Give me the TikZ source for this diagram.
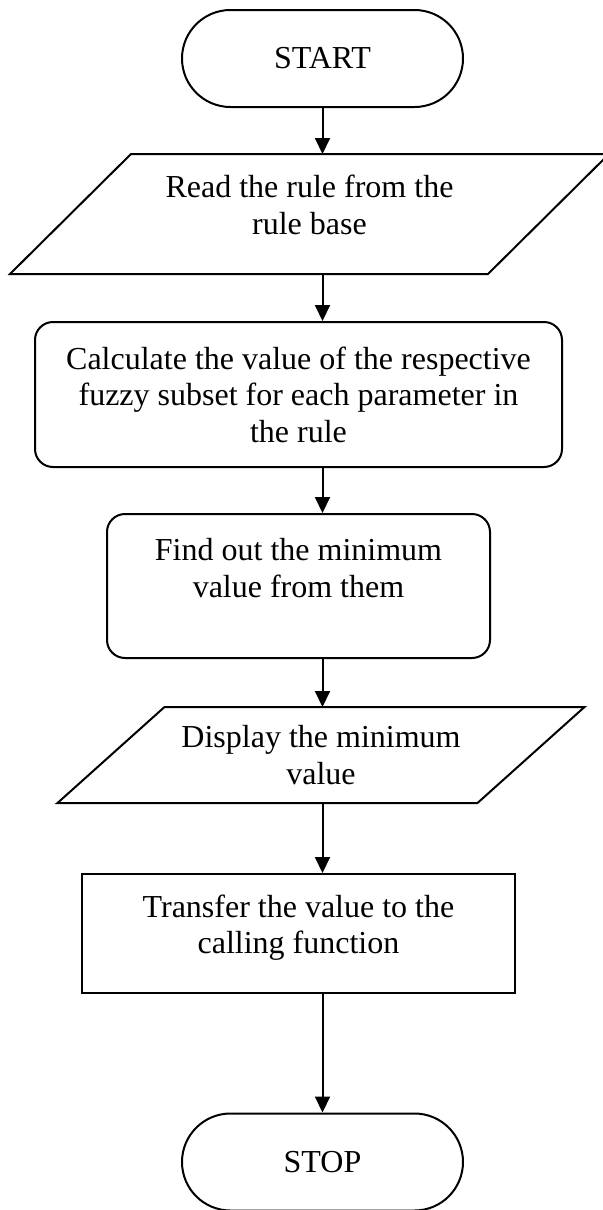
\documentclass[tikz,border=0pt]{standalone}
\usepackage{fontspec}
\setmainfont{Liberation Serif}
\usetikzlibrary{shapes.misc,arrows.meta}

\begin{document}
\begin{tikzpicture}[x=0.5pt,y=-0.5pt,
	every node/.style={font=\fontsize{16}{18.3}\selectfont,align=center,line width=1pt,inner sep=2pt},
	term/.style={draw,rounded rectangle,minimum width=144.5pt,minimum height=48.5pt},
	io/.style={outer sep=0pt},
	proc/.style={draw,rounded corners=9pt},
	arr/.style={line width=1pt,-{Triangle[length=8pt,width=7.5pt]}}]
	\useasboundingbox (0,0) rectangle (603,1210);
	\node[term] (start) at (322.5,58.5) {START};
	\node[io,minimum width=239pt,minimum height=60pt] (read) at (309.5,214) {Read the rule from the\\rule base\\[-9pt]\mbox{}};
	\node[proc,minimum width=263.5pt,minimum height=72.5pt] (calc) at (298.5,394.5) {Calculate the value of the respective\\fuzzy subset for each parameter in\\the rule};
	\node[proc,minimum width=191.5pt,minimum height=72pt] (findmin) at (298.5,586) {Find out the minimum\\value from them\\\mbox{}};
	\node[io,minimum width=210pt,minimum height=48pt] (display) at (321,755) {Display the minimum\\value};
	\node[draw,minimum width=216.5pt,minimum height=59.5pt] (transfer) at (298.5,933.5) {Transfer the value to the\\calling function\\[-9pt]\mbox{}};
	\node[term] (stop) at (322.5,1162) {STOP};
	% input/output boxes
	\draw[line width=1pt] ([xshift=-30.25pt]read.south west) -- ([xshift=-30.25pt]read.south east) -- ([xshift=30.25pt]read.north east) -- ([xshift=30.25pt]read.north west) -- cycle;
	\draw[line width=1pt] ([xshift=-26.75pt]display.south west) -- ([xshift=-26.75pt]display.south east) -- ([xshift=26.75pt]display.north east) -- ([xshift=26.75pt]display.north west) -- cycle;
	% arrows
	\draw[arr] (start.south) -- (start.south |- read.north);
	\draw[arr] (start.south |- read.south) -- (start.south |- calc.north);
	\draw[arr] (start.south |- calc.south) -- (start.south |- findmin.north);
	\draw[arr] (start.south |- findmin.south) -- (start.south |- display.north);
	\draw[arr] (start.south |- display.south) -- (start.south |- transfer.north);
	\draw[arr] (start.south |- transfer.south) -- (stop.north);
\end{tikzpicture}
\end{document}
